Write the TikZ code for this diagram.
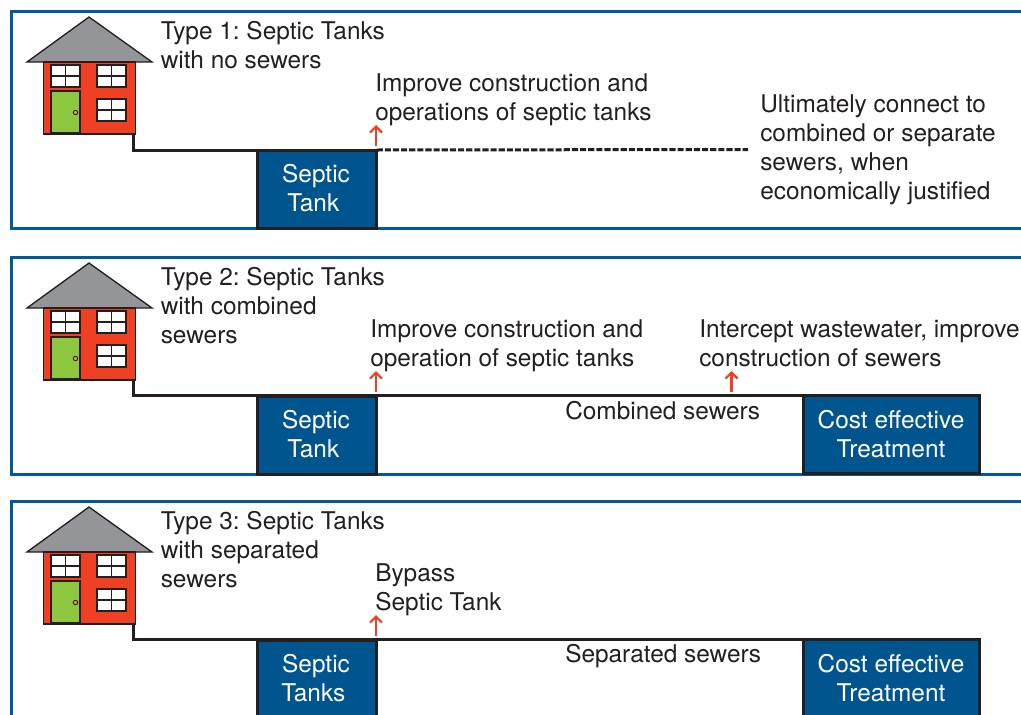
\documentclass[tikz,border=0pt]{standalone}
\usepackage{fontspec}
\setmainfont{TeX Gyre Heros}
\usetikzlibrary{arrows.meta}
\frenchspacing
\definecolor{framecol}{HTML}{005A96}
\definecolor{tankcol}{HTML}{00558F}
\definecolor{inkcol}{HTML}{231F20}
\definecolor{wallcol}{HTML}{F04023}
\definecolor{roofcol}{HTML}{939598}
\definecolor{doorcol}{HTML}{8DC63F}
\definecolor{knobcol}{HTML}{F9A51A}
\tikzset{
	panel/.style={draw=framecol,line width=2.25pt},
	pipe/.style={draw=inkcol,line width=2.25pt},
	tankbox/.style={draw=inkcol,line width=2.25pt,fill=tankcol,inner sep=0pt,outer sep=0pt,minimum height=58.5pt},
	tanktext/.style={text=white,align=center,font=\fontsize{18.3}{21.4}\selectfont},
	label/.style={anchor=north west,align=left,text=inkcol,inner sep=0pt,font=\fontsize{18.3}{21.75}\selectfont},
	uparrow/.style={draw=wallcol,line width=1.7pt,-{Straight Barb[length=4.5pt,width=9pt]}},
	windowbox/.style={draw=inkcol,line width=1.1pt,fill=white,inner sep=0pt,minimum width=21.75pt,minimum height=16.5pt},
}
\begin{document}
\begin{tikzpicture}[x=0.75pt,y=-0.75pt]
	\useasboundingbox (0,0) rectangle (1021,714);
	\clip (0,0) rectangle (1021,714);

	% frames, houses and tanks repeat in the three panels
	\foreach \n/\yo/\ylow in {1/0/228,2/246/474,3/490/760}
	{
		\begin{scope}[yshift=-0.75*\yo pt]
			\draw[panel] (1030,11) -- (11.5,11) -- (11.5,\ylow-\yo) -- (1030,\ylow-\yo);
			% roof and walls
			\draw[draw=inkcol,line width=1pt,fill=roofcol] (89,17) -- (152,62) -- (27,62) -- cycle;
			\node[draw=inkcol,line width=1pt,fill=wallcol,minimum width=69pt,minimum height=54pt,inner sep=0pt,outer sep=0pt] (wall\n) at (89.5,98) {};
			% windows
			\foreach \wx/\wy in {65.5/76,111.5/76,111.5/110}
			{
				\node[windowbox] at (\wx,\wy) {};
				\draw[draw=inkcol,line width=1.1pt] (\wx-14.5,\wy) -- (\wx+14.5,\wy);
				\draw[draw=inkcol,line width=1.1pt] (\wx,\wy-11) -- (\wx,\wy+11);
			}
			% door
			\node[draw=inkcol,line width=1.1pt,fill=doorcol,minimum width=21.75pt,minimum height=31.5pt,inner sep=0pt] at (65.5,112) {};
			\draw[draw=inkcol,line width=0.7pt,fill=knobcol] (75.5,112.5) circle (2.2);
			% tank
			\node[tankbox,minimum width=89.5pt] (tank\n) at (317,189) {};
		\end{scope}
	}

	% pipes
	\draw[pipe] ([xshift=-1.5pt]wall1.south east) |- (tank1.north east);
	\coordinate (dashend) at (748,149.5);
	\draw[pipe,dash pattern=on 4.6pt off 1.5pt] (tank1.north east) -- (dashend);

	\node[tankbox,minimum width=132pt] (treat2) at (891.5,434.5) {};
	\node[tankbox,minimum width=132pt] (treat3) at (891.5,678.5) {};
	\draw[pipe] ([xshift=-1.5pt]wall2.south east) |- (treat2.north east);
	\draw[pipe] ([xshift=-1.5pt]wall3.south east) |- (treat3.north east);

	% tank texts
	\node[tanktext] (tanktext1) at (316,188) {Septic\\Tank\kern4pt};
	\node[tanktext] (tanktext2) at (316,434) {Septic\\Tank\kern4pt};
	\node[tanktext] (tanktext3) at (316,678) {Septic\\Tanks\kern4pt};
	\node[tanktext] (treattext2) at (891,434) {Cost effective\\Treatment};
	\node[tanktext] (treattext3) at (891,678) {Cost effective\\Treatment};

	% panel 1 labels
	\node[label] (title1) at (160.5,21) {Type 1: Septic Tanks\\with no sewers};
	\node[label] (improve1) at (375,73) {Improve construction and\\operations of septic tanks};
	\node[label] (connect1) at (760,94) {Ultimately connect to\\combined or separate\\sewers, when\\economically justified};

	% panel 2 labels
	\node[label] (title2) at (160.5,267) {Type 2: Septic Tanks\\with combined\\sewers};
	\node[label] (improve2) at (370,319) {Improve construction and\\operation of septic tanks};
	\node[label] (intercept2) at (699,319) {Intercept wastewater, improve\\construction of sewers};
	\node[label] (combined2) at (565,401) {Combined sewers};

	% panel 3 labels
	\node[label] (title3) at (160.5,511) {Type 3: Septic Tanks\\with separated\\sewers};
	\node[label] (bypass3) at (375,563) {Bypass\\Septic Tank};
	\node[label] (separated3) at (565,644) {Separated sewers};

	% red arrows
	\coordinate (a1s) at (376,146); \coordinate (a1e) at (376,125);
	\coordinate (a2s) at (376,392); \coordinate (a2e) at (376,371);
	\coordinate (b2s) at (731.5,392); \coordinate (b2e) at (731.5,371);
	\coordinate (a3s) at (376,636); \coordinate (a3e) at (376,615);
	\draw[uparrow] (a1s) -- (a1e);
	\draw[uparrow] (a2s) -- (a2e);
	\draw[uparrow] (b2s) -- (b2e);
	\draw[uparrow] (a3s) -- (a3e);
\end{tikzpicture}
\end{document}
